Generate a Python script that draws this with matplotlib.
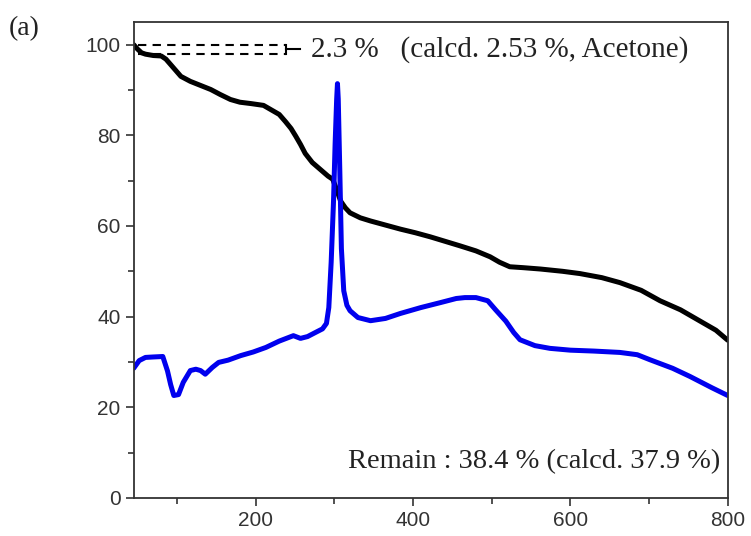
import numpy as np
import matplotlib.pyplot as plt
from matplotlib.ticker import MultipleLocator

# TGA curve (black)
tga_x = [45, 50, 55, 60, 70, 80, 86, 95, 105, 117, 130, 143, 155, 168, 180, 194, 210, 219,
         230, 238, 245, 251, 257, 263, 272, 282, 292, 298, 303, 308, 314, 320, 333, 346,
         365, 384, 403, 422, 441, 460, 480, 498, 510, 523, 540, 562, 590, 612, 640, 663,
         690, 714, 740, 765, 785, 800]
tga_y = [100.0, 99.0, 98.2, 97.9, 97.6, 97.5, 96.8, 95.0, 93.0, 91.9, 91.0, 90.1, 89.0,
         87.9, 87.3, 87.0, 86.6, 85.7, 84.6, 83.0, 81.5, 79.8, 78.0, 76.0, 74.0, 72.5,
         71.0, 70.3, 68.0, 65.5, 64.0, 62.9, 61.8, 61.1, 60.2, 59.3, 58.5, 57.6, 56.6,
         55.6, 54.5, 53.2, 52.0, 51.0, 50.8, 50.5, 50.0, 49.5, 48.6, 47.5, 45.8, 43.5,
         41.5, 39.0, 37.0, 34.8]

# DTA curve (blue)
dta_x = [45, 52, 60, 70, 82, 88, 92, 96, 102, 108, 117, 124, 130, 136, 145, 153, 165, 181,
         197, 213, 230, 248, 257, 266, 276, 285, 290, 293, 296, 299, 301, 303, 304, 305,
         307, 309, 312, 316, 320, 330, 346, 365, 384, 410, 435, 455, 466, 480, 495, 505,
         518, 528, 536, 555, 574, 600, 630, 663, 685, 701, 730, 752, 780, 800]
dta_y = [28.6, 30.3, 31.0, 31.1, 31.2, 28.0, 25.0, 22.6, 22.8, 25.5, 28.1, 28.4, 28.1,
         27.3, 28.8, 29.9, 30.4, 31.4, 32.2, 33.2, 34.6, 35.8, 35.2, 35.6, 36.5, 37.3,
         38.5, 42.0, 52.0, 65.5, 78.0, 88.0, 91.4, 88.0, 72.0, 55.0, 45.7, 42.5, 41.3,
         39.8, 39.1, 39.6, 40.7, 42.0, 43.1, 44.0, 44.2, 44.2, 43.5, 41.5, 39.0, 36.5,
         34.9, 33.6, 33.0, 32.6, 32.4, 32.1, 31.6, 30.5, 28.6, 26.8, 24.3, 22.6]

plt.rcParams['font.family'] = ['Liberation Sans', 'DejaVu Sans']

fig = plt.figure(figsize=(7.51, 5.36), dpi=100)
ax = fig.add_axes([0.178, 0.071, 0.791, 0.888])

ax.plot(tga_x, tga_y, color='black', lw=3.6, solid_capstyle='round')
ax.plot(dta_x, dta_y, color='#0000ee', lw=3.6, solid_capstyle='round')

# mass loss marker
ax.plot([50, 238], [100, 100], 'k--', lw=1.5, dashes=(4, 3))
ax.plot([50, 238], [98, 98], 'k--', lw=1.5, dashes=(4, 3))
ax.plot([238, 238], [98, 100], color='black', lw=1.5)
ax.plot([238, 256], [99, 99], color='black', lw=1.5)

serif = ['Liberation Serif', 'DejaVu Serif']
ax.text(270, 99, '2.3 %   (calcd. 2.53 %, Acetone)', family=serif, fontsize=21,
        va='center', ha='left', color='#222222')
ax.text(790, 8, 'Remain : 38.4 % (calcd. 37.9 %)', family=serif, fontsize=20.5,
        va='center', ha='right', color='#222222')
fig.text(0.012, 0.935, '(a)', family=serif, fontsize=20, color='#222222')

ax.set_xlim(45, 800)
ax.set_ylim(0, 105)
ax.xaxis.set_major_locator(MultipleLocator(200))
ax.xaxis.set_minor_locator(MultipleLocator(100))
ax.yaxis.set_major_locator(MultipleLocator(20))
ax.yaxis.set_minor_locator(MultipleLocator(10))
ax.tick_params(which='major', direction='out', length=6, width=1.2, labelsize=15,
               colors='#333333')
ax.tick_params(which='minor', direction='out', length=4, width=1.2, colors='#333333')
for s in ax.spines.values():
    s.set_linewidth(1.3)
    s.set_color('#333333')

fig.savefig('out.png', dpi=100)
